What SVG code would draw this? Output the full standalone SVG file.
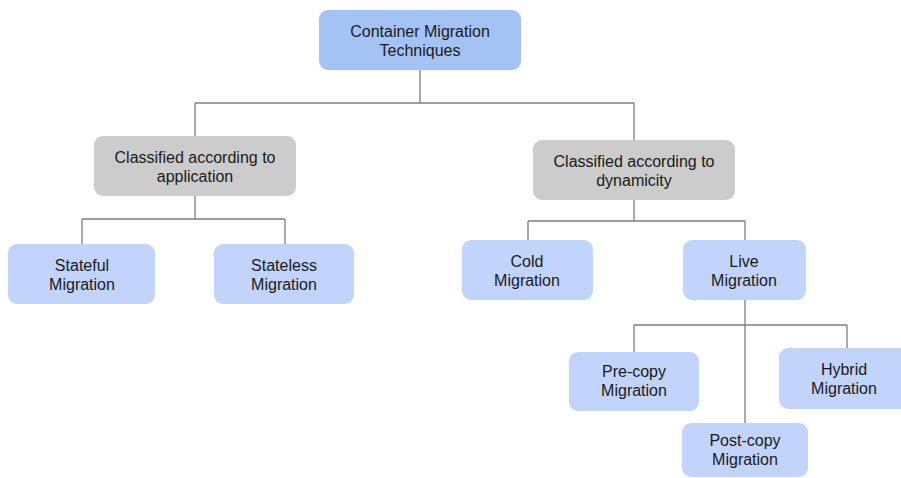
<svg xmlns="http://www.w3.org/2000/svg" width="901" height="478" viewBox="0 0 901 478">
<style>
.t{font-family:"Liberation Sans",Arial,sans-serif;font-size:16px;fill:#1a1a1a;text-anchor:middle}
.top{fill:#a4c2f4}
.cat{fill:#cccccc}
.leaf{fill:#c2d3fc}
.c{fill:none;stroke:#7f7f7f;stroke-width:1.3}
</style>
<rect width="901" height="478" fill="#ffffff"/>
<g id="connectors">
<path class="c" d="M420,70V103M195,103H634M195,103V136M634,103V140"/>
<path class="c" d="M195,196V219M82,219H285M82,219V244M285,219V244"/>
<path class="c" d="M634,200V221M528,221H745M528,221V240M745,221V240"/>
<path class="c" d="M745,300V423M634,325H847M634,325V352M847,325V348"/>
</g>
<g id="root"><rect class="top" x="319" y="10" width="202" height="60" rx="9"/><text class="t" x="420" y="37">Container Migration</text><text class="t" x="420" y="56">Techniques</text></g>
<g id="app"><rect class="cat" x="94" y="136" width="202" height="60" rx="9"/><text class="t" x="195" y="163">Classified according to</text><text class="t" x="195" y="182">application</text></g>
<g id="dyn"><rect class="cat" x="533" y="140" width="202" height="60" rx="9"/><text class="t" x="634" y="167">Classified according to</text><text class="t" x="634" y="186">dynamicity</text></g>
<g id="stateful"><rect class="leaf" x="8" y="244" width="147" height="60" rx="9"/><text class="t" x="82" y="271">Stateful</text><text class="t" x="82" y="290">Migration</text></g>
<g id="stateless"><rect class="leaf" x="214" y="244" width="140" height="60" rx="9"/><text class="t" x="284" y="271">Stateless</text><text class="t" x="284" y="290">Migration</text></g>
<g id="cold"><rect class="leaf" x="462" y="240" width="131" height="60" rx="9"/><text class="t" x="527" y="267">Cold</text><text class="t" x="527" y="286">Migration</text></g>
<g id="live"><rect class="leaf" x="683" y="240" width="123" height="60" rx="9"/><text class="t" x="744" y="267">Live</text><text class="t" x="744" y="286">Migration</text></g>
<g id="precopy"><rect class="leaf" x="569" y="352" width="130" height="59" rx="9"/><text class="t" x="634" y="377">Pre-copy</text><text class="t" x="634" y="396">Migration</text></g>
<g id="hybrid"><rect class="leaf" x="779" y="348" width="130" height="61" rx="9"/><text class="t" x="844" y="375">Hybrid</text><text class="t" x="844" y="394">Migration</text></g>
<g id="postcopy"><rect class="leaf" x="682" y="423" width="126" height="54" rx="9"/><text class="t" x="745" y="446">Post-copy</text><text class="t" x="745" y="465">Migration</text></g>
</svg>
